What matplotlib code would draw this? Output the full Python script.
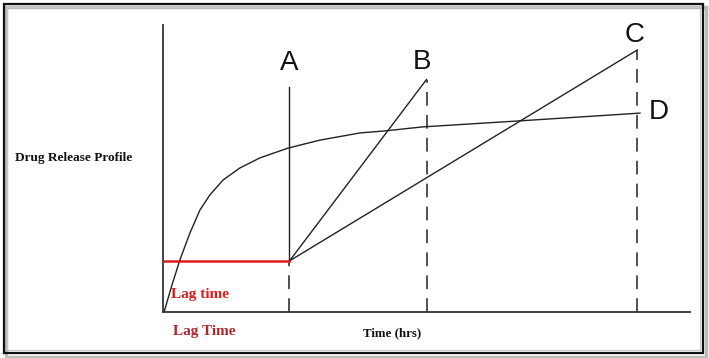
import matplotlib
matplotlib.use("Agg")
import matplotlib.pyplot as plt
from matplotlib.patches import Rectangle

# Schematic release profiles (time in arbitrary units, release in %)
lag_end = 2.4
lag_level = 17.8
label_a_top = 78.4

t_b, r_b = 5.0, 81.0
t_c, r_c = 9.0, 91.3

# Curve D
t_d = [0.02, 0.17, 0.32, 0.51, 0.70, 0.89, 1.14, 1.46, 1.84, 2.37, 2.98, 3.74, 4.21, 4.93, 6.77, 9.05]
r_d = [0.0, 9.4, 18.1, 27.5, 35.5, 40.8, 46.0, 50.2, 53.7, 57.1, 59.9, 62.4, 63.1, 64.5, 66.6, 69.3]

curve_labels = ["A", "B", "C", "D"]
label_x = [2.4, 4.92, 8.95, 9.22]
label_y = [86.6, 87.2, 96.6, 69.7]

fig = plt.figure(figsize=(7.09, 3.58), dpi=100)
ax = fig.add_axes([163 / 709, 46 / 358, 527 / 709, 287 / 358])
ax.set_xlim(0, 10)
ax.set_ylim(0, 100)
for s in ["top", "right"]:
    ax.spines[s].set_visible(False)
for s in ["left", "bottom"]:
    ax.spines[s].set_linewidth(1.3)
    ax.spines[s].set_color("#333333")
ax.set_xticks([])
ax.set_yticks([])

lc = "#222222"
# lag phase
ax.plot([0, lag_end], [lag_level, lag_level], color="#e01b1b", lw=1.8, zorder=3)
ax.plot([lag_end, lag_end], [lag_level, label_a_top], color=lc, lw=1.0)
ax.plot([lag_end, lag_end], [0, lag_level], color=lc, lw=1.1, dashes=(9, 6))

# B and C
ax.plot([lag_end, t_b], [lag_level, r_b], color=lc, lw=1.0)
ax.plot([lag_end, t_c], [lag_level, r_c], color=lc, lw=1.0)
ax.plot([t_b, t_b], [0, r_b], color=lc, lw=1.1, dashes=(9, 6))
ax.plot([t_c, t_c], [0, r_c], color=lc, lw=1.1, dashes=(9, 6))

# D
ax.plot(t_d, r_d, color=lc, lw=1.0)

for lab, x, y in zip(curve_labels, label_x, label_y):
    ha = "left" if lab == "D" else "center"
    ax.text(x, y, lab, ha=ha, va="center", fontsize=20,
            family="Liberation Sans", color="#111111", clip_on=False)

ax.text(0.15, 6, "Lag time", ha="left", va="center", fontsize=11,
        family="Liberation Serif", weight="bold", color="#d42020")

fig.text(15 / 709, 1 - 158 / 358, "Drug Release Profile", ha="left", va="center",
         fontsize=9.5, family="Liberation Serif", weight="bold", color="#111111")
fig.text(392 / 709, 1 - 333 / 358, "Time (hrs)", ha="center", va="center",
         fontsize=9.3, family="Liberation Serif", weight="bold", color="#111111")
fig.text(173 / 709, 1 - 331 / 358, "Lag Time", ha="left", va="center",
         fontsize=11, family="Liberation Serif", weight="bold", color="#b0262c")

# frame with shadow
fig.patches.append(Rectangle((6 / 709, 1 / 358), 700 / 709, 350 / 358, transform=fig.transFigure,
                             fill=False, ec="#bbbbbb", lw=2.5, zorder=0))
fig.patches.append(Rectangle((4 / 709, 5 / 358), 699 / 709, 349 / 358, transform=fig.transFigure,
                             fill=False, ec="#111111", lw=1.6, zorder=1))
fig.patches.append(Rectangle((7.5 / 709, 8 / 358), 692 / 709, 343 / 358, transform=fig.transFigure,
                             fill=False, ec="#c8c8c8", lw=0.8, zorder=1))

fig.savefig("out.png", dpi=100)
